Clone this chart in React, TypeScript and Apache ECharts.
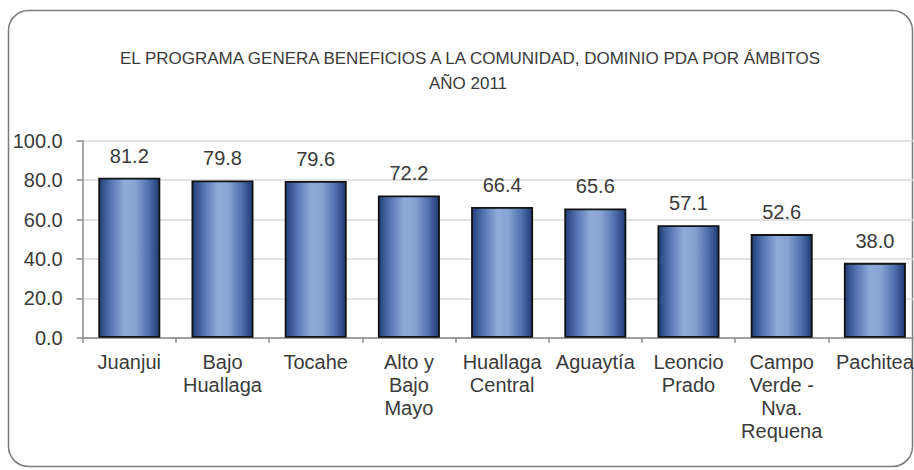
import React, { useEffect, useRef } from "react";
import * as echarts from "echarts";

const titleLine1 = "EL PROGRAMA GENERA BENEFICIOS A LA COMUNIDAD, DOMINIO PDA POR ÁMBITOS";
const titleLine2 = "AÑO 2011";
const categories = [
  "Juanjui",
  "Bajo\nHuallaga",
  "Tocahe",
  "Alto y\nBajo\nMayo",
  "Huallaga\nCentral",
  "Aguaytía",
  "Leoncio\nPrado",
  "Campo\nVerde -\nNva.\nRequena",
  "Pachitea",
];
const values = [81.2, 79.8, 79.6, 72.2, 66.4, 65.6, 57.1, 52.6, 38.0];
const yMin = 0;
const yMax = 100;
const yInterval = 20;

const FONT = "'Liberation Sans', Arial, sans-serif";

export default function App() {
  const ref = useRef<HTMLDivElement>(null);
  useEffect(() => {
    if (!ref.current) return;
    const chart = echarts.init(ref.current, null, { renderer: "svg" });
    const barGradient = new echarts.graphic.LinearGradient(0, 0, 1, 0, [
      { offset: 0, color: "#223f78" },
      { offset: 0.2, color: "#5777b4" },
      { offset: 0.42, color: "#8eaad8" },
      { offset: 0.6, color: "#86a3d3" },
      { offset: 0.82, color: "#5071ae" },
      { offset: 1, color: "#1f3a72" },
    ]);
    chart.setOption({
      animation: false,
      backgroundColor: "#ffffff",
      graphic: [
        {
          type: "rect",
          shape: { x: 8.5, y: 10.5, width: 904, height: 456, r: 20 },
          style: { fill: "none", stroke: "#7a7a7a", lineWidth: 1.5 },
          silent: true,
        },
        {
          type: "text",
          x: 470,
          y: 58,
          style: {
            text: titleLine1,
            fontFamily: FONT,
            fontSize: 17,
            fill: "#3a3a3a",
            align: "center",
            verticalAlign: "middle",
          },
        },
        {
          type: "text",
          x: 468,
          y: 83,
          style: {
            text: titleLine2,
            fontFamily: FONT,
            fontSize: 17,
            fill: "#3a3a3a",
            align: "center",
            verticalAlign: "middle",
          },
        },
      ],
      grid: {
        left: 82.7,
        top: 140.7,
        width: 838.8,
        height: 197,
        containLabel: false,
        outerBoundsMode: "none",
      },
      xAxis: {
        type: "category",
        data: categories,
        boundaryGap: true,
        axisLine: { show: true, lineStyle: { color: "#8a8a8a", width: 1.5 } },
        axisTick: { show: true, alignWithLabel: false, length: 5, lineStyle: { color: "#8a8a8a", width: 1.5 } },
        axisLabel: {
          interval: 0,
          margin: 13,
          fontFamily: FONT,
          fontSize: 20,
          lineHeight: 23,
          color: "#3a3a3a",
          align: "center",
        },
      },
      yAxis: {
        type: "value",
        min: yMin,
        max: yMax,
        interval: yInterval,
        axisLine: { show: true, lineStyle: { color: "#8a8a8a", width: 1.5 } },
        axisTick: { show: true, length: 6, lineStyle: { color: "#8a8a8a", width: 1.5 } },
        splitLine: { show: true, lineStyle: { color: "#d9d9d9", width: 1.5 } },
        axisLabel: {
          margin: 20,
          fontFamily: FONT,
          fontSize: 20,
          color: "#3a3a3a",
          formatter: (v: number) => v.toFixed(1),
        },
      },
      series: [
        {
          type: "bar",
          data: values,
          barWidth: 62,
          itemStyle: { color: barGradient, borderColor: "#111111", borderWidth: 1.8 },
          label: {
            show: true,
            position: "top",
            distance: 12,
            fontFamily: FONT,
            fontSize: 20,
            color: "#3a3a3a",
            formatter: (p: any) => Number(p.value).toFixed(1),
          },
        },
      ],
    });
    return () => chart.dispose();
  }, []);
  return (
    <div
      ref={ref}
      style={{ position: "absolute", left: 0, top: 0, width: 914, height: 470 }}
    />
  );
}
